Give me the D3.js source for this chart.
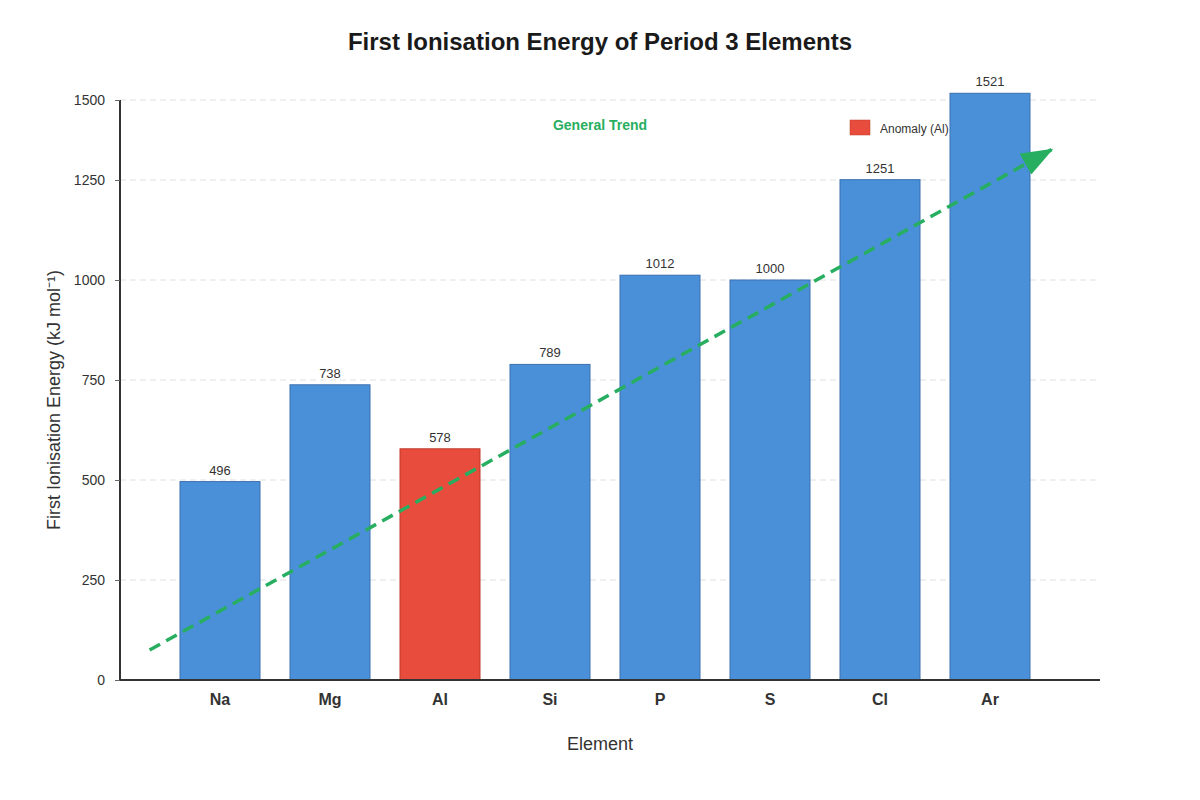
<!DOCTYPE html>
<html><head><meta charset="utf-8">
<script src="https://cdn.jsdelivr.net/npm/d3@7"></script>
<style>body{margin:0;background:#fff;font-family:"Liberation Sans",Arial,sans-serif;}</style>
</head><body><svg id="c" width="1200" height="800"></svg>
<script>
const elements = ["Na","Mg","Al","Si","P","S","Cl","Ar"];
const energies = [496,738,578,789,1012,1000,1251,1521];
const anomalies = ["Al"];
const yTicks = [0,250,500,750,1000,1250,1500];
// trend arrow endpoints: position in element index units, energy value
const trendPos = [-0.64, 7.56];
const trendVal = [75, 1345];

const svg = d3.select("#c");
const x = d3.scaleBand().domain(elements).range([165,1045]).paddingInner(3/11).paddingOuter(3/22);
const xi = d3.scaleLinear().domain([0,elements.length-1]).range([x(elements[0])+x.bandwidth()/2, x(elements[elements.length-1])+x.bandwidth()/2]);
const y = d3.scaleLinear().domain([0,1250,1500]).range([680,180,100]);

// grid
svg.append("g").selectAll("line").data(yTicks.slice(1)).join("line")
  .attr("x1",120).attr("x2",1100).attr("y1",d=>y(d)).attr("y2",d=>y(d))
  .attr("stroke","#e0e0e0").attr("stroke-dasharray","6,4").attr("stroke-width",1);

// bars
svg.append("g").selectAll("rect").data(elements).join("rect")
  .attr("x",d=>x(d)).attr("width",x.bandwidth())
  .attr("y",(d,i)=>y(energies[i])).attr("height",(d,i)=>y(0)-y(energies[i]))
  .attr("fill",d=>anomalies.includes(d)?"#e74c3c":"#4a90d9")
  .attr("stroke",d=>anomalies.includes(d)?"#c0392b":"#3a6fb0").attr("stroke-width",1);

// value labels
svg.append("g").selectAll("text").data(elements).join("text")
  .attr("x",d=>x(d)+x.bandwidth()/2).attr("y",(d,i)=>y(energies[i])-7)
  .attr("text-anchor","middle").attr("font-size",13).attr("fill","#333")
  .text((d,i)=>energies[i]);

// y axis
const ya = svg.append("g").attr("transform","translate(120,0)")
  .call(d3.axisLeft(y).tickValues(yTicks).tickSize(5).tickPadding(10).tickFormat(d3.format("d")));
ya.select(".domain").attr("stroke","#333").attr("stroke-width",2).attr("d","M0,100V680");
ya.selectAll(".tick line").attr("stroke","#666");
ya.selectAll(".tick text").attr("font-size",14).attr("fill","#333").attr("font-family","Liberation Sans, Arial, sans-serif");

// x axis
const xa = svg.append("g").attr("transform","translate(0,680)")
  .call(d3.axisBottom(x).tickSize(0).tickPadding(14));
xa.select(".domain").attr("stroke","#333").attr("stroke-width",2).attr("d","M120,0H1100");
xa.selectAll(".tick text").attr("font-size",16).attr("font-weight","bold").attr("fill","#333").attr("font-family","Liberation Sans, Arial, sans-serif");

// trend arrow
svg.append("defs").append("marker").attr("id","arr")
  .attr("viewBox","0 0 32 24").attr("refX",30).attr("refY",12)
  .attr("markerWidth",32).attr("markerHeight",24)
  .attr("markerUnits","userSpaceOnUse").attr("orient","auto")
  .append("path").attr("d","M0,0L32,12L0,24Z").attr("fill","#27ae60");
svg.append("line")
  .attr("x1",xi(trendPos[0])).attr("y1",y(trendVal[0]))
  .attr("x2",xi(trendPos[1])).attr("y2",y(trendVal[1]))
  .attr("stroke","#27ae60").attr("stroke-width",3.5).attr("stroke-dasharray","12,7")
  .attr("marker-end","url(#arr)");

svg.append("text").attr("x",600).attr("y",130).attr("text-anchor","middle")
  .attr("font-size",14).attr("font-weight","bold").attr("fill","#27ae60").text("General Trend");

// legend
svg.append("rect").attr("x",850).attr("y",120).attr("width",20).attr("height",15)
  .attr("fill","#e74c3c").attr("stroke","#c0392b").attr("stroke-width",0.5);
svg.append("text").attr("x",880).attr("y",133).attr("font-size",12).attr("fill","#333").text("Anomaly (Al)");

// titles
svg.append("text").attr("x",600).attr("y",50).attr("text-anchor","middle")
  .attr("font-size",24).attr("font-weight","bold").attr("fill","#1a1a1a")
  .text("First Ionisation Energy of Period 3 Elements");
svg.append("text").attr("x",600).attr("y",750).attr("text-anchor","middle")
  .attr("font-size",18).attr("fill","#333").text("Element");
svg.append("text").attr("transform","translate(60,400) rotate(-90)").attr("text-anchor","middle")
  .attr("font-size",18).attr("fill","#333").text("First Ionisation Energy (kJ mol⁻¹)");
</script></body></html>
